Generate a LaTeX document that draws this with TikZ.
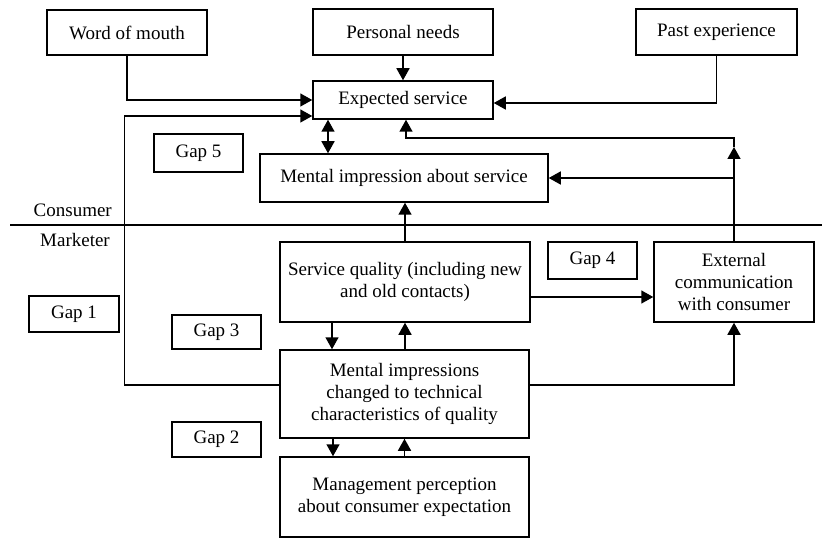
\documentclass[tikz,border=0pt]{standalone}
\usepackage{fontspec}
\setmainfont{Liberation Serif}
\usetikzlibrary{arrows.meta,calc}
\begin{document}
\begin{tikzpicture}[x=1pt,y=-1pt,
  box/.style={draw,line width=1.5pt,align=center,inner sep=0pt,font=\fontsize{19pt}{21.7pt}\selectfont},
  lbl/.style={inner sep=0pt,font=\fontsize{19pt}{21.7pt}\selectfont},
  conn/.style={line width=1.5pt},
  arr/.style={conn,-{Triangle[length=12pt,width=13pt]}},
  darr/.style={conn,{Triangle[length=12pt,width=13pt]}-{Triangle[length=12pt,width=13pt]}}]
\useasboundingbox (0,0) rectangle (822,540);
% nodes
\node[box,minimum width=160pt,minimum height=45pt] (wom) at (127,32.5) {Word of mouth};
\node[box,minimum width=180pt,minimum height=46pt] (pn) at (403,32) {Personal needs};
\node[box,minimum width=161pt,minimum height=46pt] (pe) at (716.5,32) {Past experience};
\node[box,minimum width=180pt,minimum height=38pt] (es) at (403,100) {Expected service};
\node[box,minimum width=89pt,minimum height=38pt] (gap5) at (198.5,153) {Gap 5};
\node[box,minimum width=288pt,minimum height=48pt] (mis) at (404,178) {Mental impression about service};
\node[box,minimum width=250pt,minimum height=80pt] (sq) at (405,282) {Service quality (including new\\and old contacts)};
\node[box,minimum width=89pt,minimum height=37pt] (gap4) at (592.5,260.5) {Gap 4};
\node[box,minimum width=160pt,minimum height=80pt] (ext) at (734,282) {External\\communication\\with consumer};
\node[box,minimum width=90pt,minimum height=36pt] (gap1) at (74,314) {Gap 1};
\node[box,minimum width=89pt,minimum height=34pt] (gap3) at (216.5,332) {Gap 3};
\node[box,minimum width=249pt,minimum height=88pt] (mi) at (404.5,394) {Mental impressions\\changed to technical\\characteristics of quality};
\node[box,minimum width=89pt,minimum height=35pt] (gap2) at (216.5,439.5) {Gap 2};
\node[box,minimum width=249pt,minimum height=80pt] (mp) at (404.5,497) {Management perception\\about consumer expectation};
\node[lbl,anchor=east] (cons) at (112,210) {Consumer};
\node[lbl,anchor=east] (mark) at (110,240) {Marketer};
\coordinate (divL) at (10,225);
\coordinate (divR) at (822,225);
\draw[conn] (divL) -- (divR);
% connectors
\draw[arr] (pn.south) -- (es.north);
\draw[arr] (wom.south) |- (es.west);
\draw[arr] ([yshift=9pt]mi.west) -- ++(-155,0) |- ([yshift=-16pt]es.west);
\draw[arr] (pe.south) |- ([yshift=-3pt]es.east);
\draw[darr] ([xshift=-75pt]es.south) -- ([xshift=-76pt]mis.north);
\coordinate (T) at (734,147);
\coordinate (T2) at (734,138);
\draw[arr] (ext.north) -- (T);
\draw[arr] (T) -- (T2) -| ([xshift=3pt]es.south);
\draw[arr] (ext.north |- mis.east) -- (mis.east);
\draw[arr] (sq.north) -- (sq.north |- mis.south);
\draw[arr] ([yshift=-15pt]sq.east) -- ([yshift=-15pt]ext.west);
\draw[arr] ([xshift=-73pt]sq.south) -- ([xshift=-73pt]sq.south |- mi.north);
\draw[arr] (sq.south |- mi.north) -- (sq.south);
\draw[arr] ([yshift=9pt]mi.east) -| (ext.south);
\draw[arr] ([xshift=-71.5pt]mi.south) -- ([xshift=-71.5pt]mp.north);
\draw[arr] (mp.north) -- (mi.south);
\end{tikzpicture}
\end{document}
